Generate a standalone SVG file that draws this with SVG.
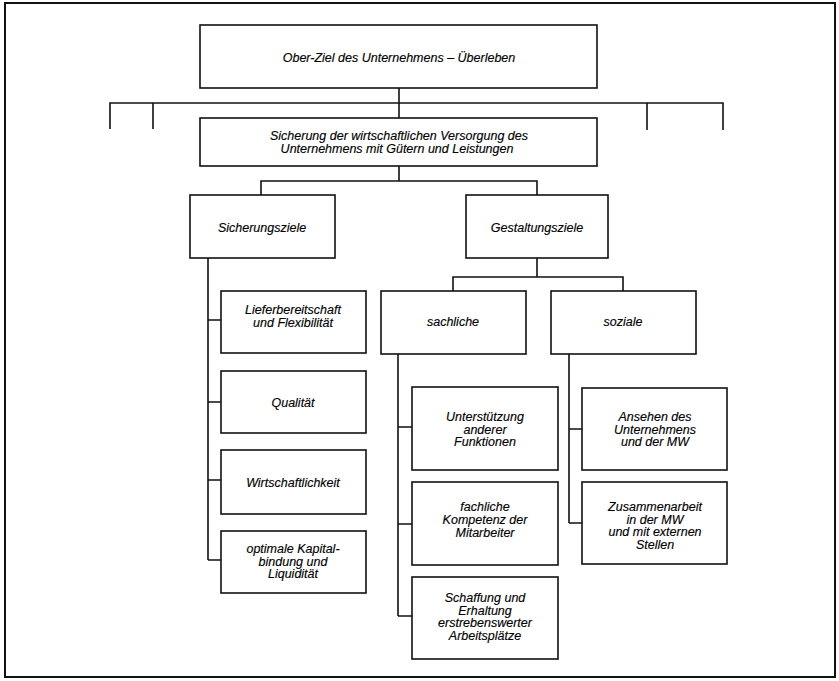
<svg xmlns="http://www.w3.org/2000/svg" width="839" height="681" viewBox="0 0 839 681">
<style>
.box{fill:#fff;stroke:#111;stroke-width:1.6}
.ln{fill:none;stroke:#111;stroke-width:1.6}
text{font-family:"Liberation Sans",Arial,Helvetica,sans-serif;font-style:italic;font-size:12.5px;fill:#000;text-anchor:middle;stroke:#000;stroke-width:0.15}
</style>
<rect x="0" y="0" width="839" height="681" fill="#fff"/>
<rect x="5" y="3" width="830" height="674" fill="none" stroke="#111" stroke-width="2"/>
<g id="connectors" class="ln">
<path d="M399 88V118"/>
<path d="M110 129V103H723V130M153 103V129M647 103V130"/>
<path d="M399 166V181M261 195V181H537V195"/>
<path d="M537 258V277M453 291V277H623V291"/>
<path d="M208 258V560M208 320H221M208 402H221M208 480H221M208 560H221"/>
<path d="M398 354V616M398 427H412M398 524H412M398 616H412"/>
<path d="M569 354V523M569 429H582M569 523H582"/>
</g>
<g id="n-ober"><rect class="box" x="200" y="25" width="397" height="63"/><text x="399" y="62">Ober-Ziel des Unternehmens – Überleben</text></g>
<g id="n-sicherung"><rect class="box" x="200" y="118" width="397" height="48"/><text x="399" y="139.5">Sicherung der wirtschaftlichen Versorgung des</text><text x="397" y="153">Unternehmens mit Gütern und Leistungen</text></g>
<g id="n-sicherungsziele"><rect class="box" x="190" y="195" width="145" height="63"/><text x="262" y="232">Sicherungsziele</text></g>
<g id="n-gestaltungsziele"><rect class="box" x="466" y="195" width="142" height="63"/><text x="537" y="232">Gestaltungsziele</text></g>
<g id="n-sachliche"><rect class="box" x="381" y="291" width="145" height="63"/><text x="453" y="326">sachliche</text></g>
<g id="n-soziale"><rect class="box" x="551" y="291" width="145" height="63"/><text x="623" y="326">soziale</text></g>
<g id="n-liefer"><rect class="box" x="221" y="291" width="145" height="62"/><text x="293" y="314">Lieferbereitschaft</text><text x="293" y="327">und Flexibilität</text></g>
<g id="n-qualitaet"><rect class="box" x="221" y="371" width="145" height="62"/><text x="293" y="407">Qualität</text></g>
<g id="n-wirtschaft"><rect class="box" x="221" y="450" width="145" height="64"/><text x="293" y="487">Wirtschaftlichkeit</text></g>
<g id="n-optimale"><rect class="box" x="221" y="531" width="145" height="62"/><text x="293" y="553">optimale Kapital-</text><text x="293" y="565.5">bindung und</text><text x="293" y="578">Liquidität</text></g>
<g id="n-unterst"><rect class="box" x="412" y="387" width="146" height="83"/><text x="485" y="421">Unterstützung</text><text x="485" y="433.5">anderer</text><text x="485" y="446">Funktionen</text></g>
<g id="n-fachlich"><rect class="box" x="412" y="482" width="146" height="83"/><text x="485" y="511">fachliche</text><text x="485" y="524">Kompetenz der</text><text x="485" y="537">Mitarbeiter</text></g>
<g id="n-schaffung"><rect class="box" x="412" y="577" width="146" height="82"/><text x="485" y="602">Schaffung und</text><text x="485" y="614.5">Erhaltung</text><text x="485" y="627">erstrebenswerter</text><text x="485" y="639.5">Arbeitsplätze</text></g>
<g id="n-ansehen"><rect class="box" x="582" y="388" width="145" height="82"/><text x="655" y="421">Ansehen des</text><text x="655" y="433.5">Unternehmens</text><text x="655" y="446">und der MW</text></g>
<g id="n-zusammen"><rect class="box" x="582" y="482" width="145" height="82"/><text x="655" y="511">Zusammenarbeit</text><text x="655" y="523.5">in der MW</text><text x="655" y="536">und mit externen</text><text x="655" y="548.5">Stellen</text></g>
</svg>
